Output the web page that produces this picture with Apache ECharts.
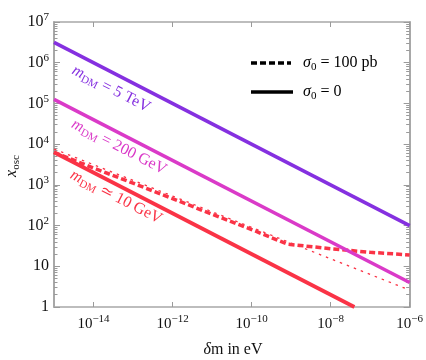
<!DOCTYPE html>
<html><head><meta charset="utf-8">
<script src="https://cdn.jsdelivr.net/npm/echarts@6/dist/echarts.min.js"></script>
<style>html,body{margin:0;padding:0;background:#fff}#c{width:426px;height:360px}</style>
</head><body><div id="c"></div>
<script>
// ---- data ----
const deltaMEnds = [1e-15, 1e-6];
const xosc5TeV = [3.16e6, 100];
const xosc200GeV = [1.26e5, 4];
const deltaM10GeV = [1e-15, 4e-8];
const xosc10GeV = [6300, 1];
const deltaMSigma = [1e-15, 1e-14, 1e-13, 1e-12, 1e-11, 1e-10, 8e-10, 1e-8, 1e-7, 1e-6];
const xoscSigma = [6300, 2600, 1100, 460, 190, 80, 35, 27, 22, 19];
const deltaMThin = [1e-15, 1e-6];
const xoscThin = [7600, 2.6];
const xTickValues = [1e-14, 1e-12, 1e-10, 1e-8, 1e-6];
const yTickValues = [1, 10, 100, 1e3, 1e4, 1e5, 1e6, 1e7];
const yMinorTickValues = [];
for (let k = 0; k < 7; k++) for (let m = 2; m < 10; m++) yMinorTickValues.push(m * Math.pow(10, k));

const FONT = "'Liberation Serif','DejaVu Serif',serif";
const C_PURPLE = '#8530e0', C_MAGENTA = '#da3ac8', C_RED = '#fa3346';
const FRAME = '#a8a8a8', TICK = '#9a9a9a';

const zip = (xs, ys) => xs.map((x, i) => [x, ys[i]]);

function xLabel(v) {
  const e = Math.round(Math.log10(v));
  return '{b|10}{s|' + (e < 0 ? '\u2212' : '') + Math.abs(e) + '}';
}
function yLabel(v) {
  const e = Math.round(Math.log10(v));
  if (e === 0) return '{b|1}';
  if (e === 1) return '{b|10}';
  return '{b|10}{s|' + e + '}';
}
const xRich = { b: { fontSize: 15, fontFamily: FONT, color: '#111' }, s: { fontSize: 11, fontFamily: FONT, color: '#111', padding: [0, 0, 9, 0] } };
const yRich = { b: { fontSize: 16, fontFamily: FONT, color: '#111' }, s: { fontSize: 11, fontFamily: FONT, color: '#111', padding: [0, 0, 9, 0] } };

const baseX = { type: 'log', logBase: 10, min: 1e-15, max: 1e-6, gridIndex: 0, splitLine: { show: false }, minorTick: { show: false } };
const baseY = { type: 'log', logBase: 10, min: 1, max: 1e7, gridIndex: 0, splitLine: { show: false }, minorTick: { show: false } };

const xAxis = [
  Object.assign({}, baseX, {
    position: 'bottom',
    axisLine: { show: true, lineStyle: { color: FRAME, width: 1.5 } },
    axisTick: { show: true, inside: true, length: 5, customValues: xTickValues, lineStyle: { color: TICK } },
    axisLabel: { show: true, customValues: xTickValues, formatter: xLabel, rich: xRich, margin: 7 }
  }),
  Object.assign({}, baseX, {
    position: 'top',
    axisLine: { show: true, lineStyle: { color: FRAME, width: 1.5 } },
    axisTick: { show: true, inside: true, length: 5, customValues: xTickValues, lineStyle: { color: TICK } },
    axisLabel: { show: false }
  })
];
const yAxis = [
  Object.assign({}, baseY, {
    position: 'left',
    axisLine: { show: true, lineStyle: { color: FRAME, width: 2 } },
    axisTick: { show: true, inside: true, length: 6, customValues: yTickValues, lineStyle: { color: TICK } },
    axisLabel: { show: true, customValues: yTickValues, formatter: yLabel, rich: yRich, margin: 5 }
  }),
  Object.assign({}, baseY, {
    position: 'right',
    axisLine: { show: true, lineStyle: { color: FRAME, width: 2 } },
    axisTick: { show: true, inside: true, length: 6, customValues: yTickValues, lineStyle: { color: TICK } },
    axisLabel: { show: false }
  }),
  Object.assign({}, baseY, {
    position: 'left', offset: 0,
    axisLine: { show: false },
    axisTick: { show: true, inside: true, length: 3.5, customValues: yMinorTickValues, lineStyle: { color: TICK } },
    axisLabel: { show: false }
  }),
  Object.assign({}, baseY, {
    position: 'right', offset: 0,
    axisLine: { show: false },
    axisTick: { show: true, inside: true, length: 3.5, customValues: yMinorTickValues, lineStyle: { color: TICK } },
    axisLabel: { show: false }
  })
];

function lineSeries(name, data, color, width, dash) {
  return {
    name, type: 'line', xAxisIndex: 0, yAxisIndex: 0, data, symbol: 'none', clip: true,
    silent: true, lineStyle: { color, width, type: dash || 'solid', cap: 'butt' }
  };
}

function label(x, y, rot, text, color) {
  const r = {
    i: { fontSize: 16, fontFamily: FONT, fontStyle: 'italic', fill: color },
    sub: { fontSize: 11, fontFamily: FONT, fill: color, padding: [8, 0, 0, 0] },
    n: { fontSize: 16, fontFamily: FONT, fill: color }
  };
  return { type: 'text', x, y, rotation: rot, silent: true,
    style: { text, rich: r, fill: color, align: 'center', verticalAlign: 'middle' } };
}
const ROT = -0.473;

const option = {
  animation: false,
  backgroundColor: '#fff',
  grid: { left: 54, right: 14, top: 22, bottom: 53, containLabel: false },
  xAxis, yAxis,
  series: [
    lineSeries('sigma100thin', zip(deltaMThin, xoscThin), C_RED, 1.3, [2.5, 5]),
    lineSeries('sigma100', zip(deltaMSigma, xoscSigma), C_RED, 3.5, [6, 3]),
    lineSeries('10GeV', zip(deltaM10GeV, xosc10GeV), C_RED, 3.8),
    lineSeries('200GeV', zip(deltaMEnds, xosc200GeV), C_MAGENTA, 3.5),
    lineSeries('5TeV', zip(deltaMEnds, xosc5TeV), C_PURPLE, 3.5)
  ],
  graphic: [
    label(111, 89, ROT, '{i|m}{sub|DM}{n| = 5 TeV}', C_PURPLE),
    label(119, 147, ROT, '{i|m}{sub|DM}{n| = 200 GeV}', C_MAGENTA),
    label(116, 197, ROT, '{i|m}{sub|DM}{n| \u2243 10 GeV}', C_RED),
    { type: 'line', silent: true, shape: { x1: 251, y1: 63, x2: 291, y2: 63 }, style: { stroke: '#000', lineWidth: 3.5, lineDash: [6, 3] } },
    label(303, 63, 0, '{i|\u03c3}{sub|0}{n| = 100 pb}', '#000'),
    { type: 'line', silent: true, shape: { x1: 251, y1: 92, x2: 293, y2: 92 }, style: { stroke: '#000', lineWidth: 3.5 } },
    label(303, 92, 0, '{i|\u03c3}{sub|0}{n| = 0}', '#000'),
    label(233, 350, 0, '{i|\u03b4}{n|m in eV}', '#111'),
    label(12, 166, Math.PI / 2, '{i|x}{sub|osc}', '#111')
  ]
};
// legend texts left-aligned
option.graphic[4].style.align = 'left';
option.graphic[6].style.align = 'left';

const chart = echarts.init(document.getElementById('c'), null, { renderer: 'canvas' });
chart.setOption(option);
</script></body></html>
